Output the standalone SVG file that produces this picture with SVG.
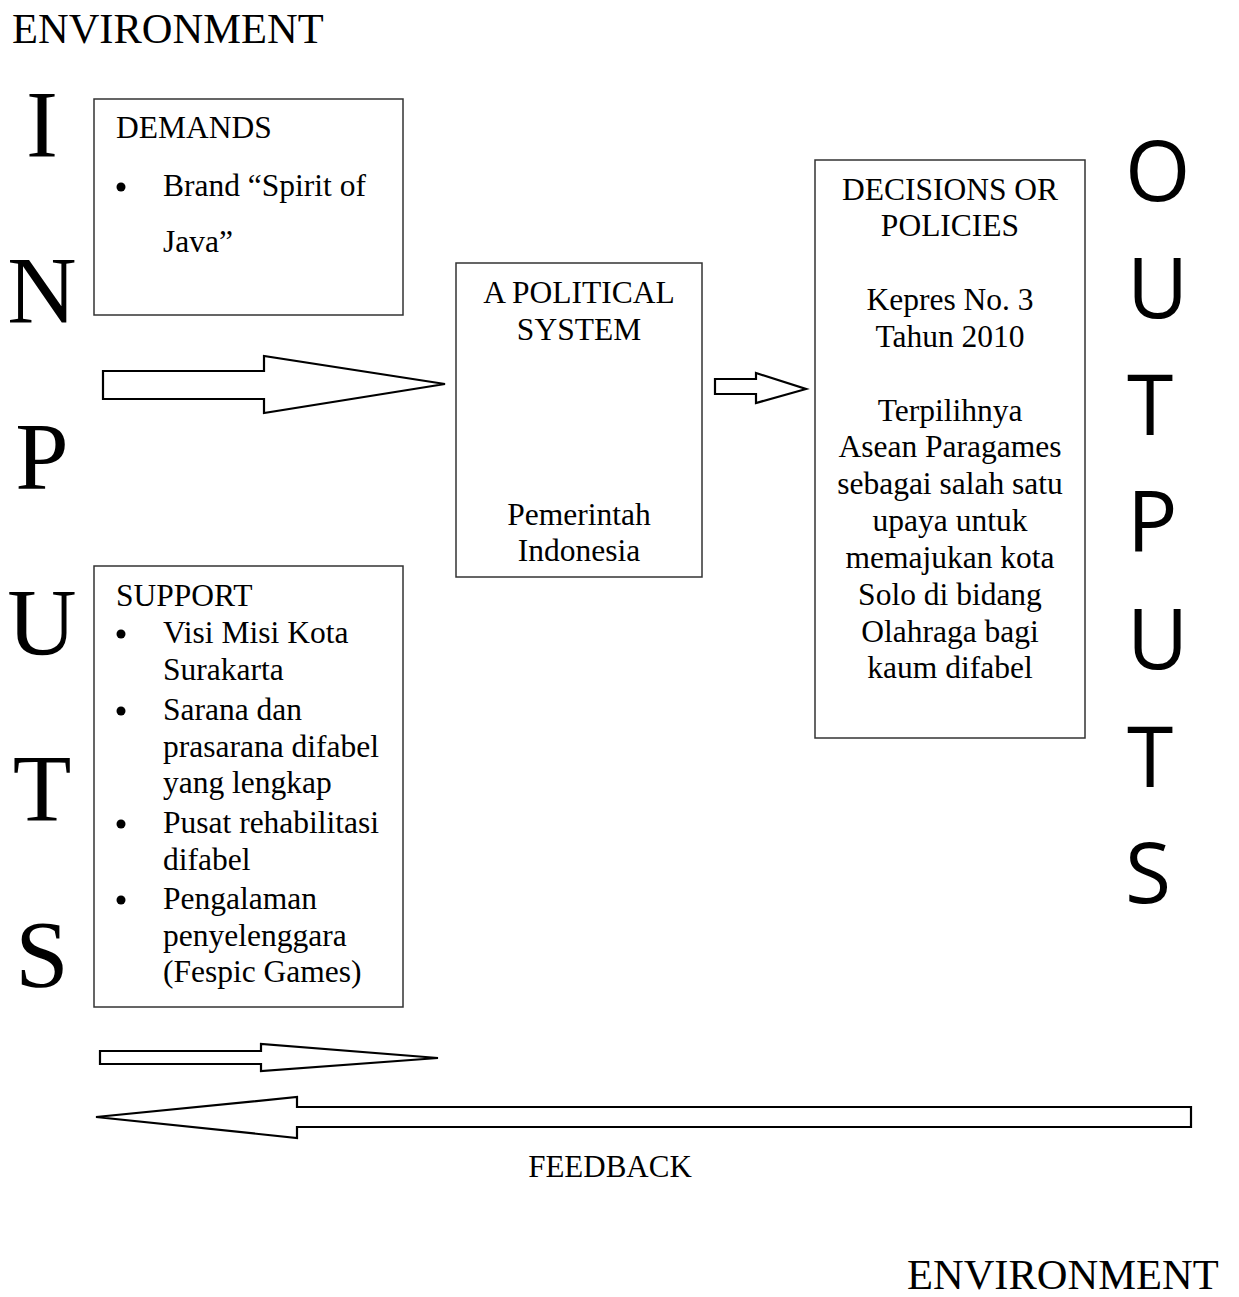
<svg xmlns="http://www.w3.org/2000/svg" width="1239" height="1297" viewBox="0 0 1239 1297">
<style>
.t{font-family:"Liberation Serif","Times New Roman",serif;fill:#000}
.s{font-size:31.5px}
.c{text-anchor:middle}
.big{font-family:"Liberation Serif","Times New Roman",serif;font-size:96px;text-anchor:middle}
.out{font-family:"Open Sans","Liberation Sans",Arial,sans-serif;font-size:84px}
.box{fill:#fff;stroke:#333;stroke-width:1.5}
.arr{fill:#fff;stroke:#000;stroke-width:2.2;stroke-linejoin:miter}
</style>
<rect width="1239" height="1297" fill="#fff"/>
<g id="env-top"><text class="t" x="12" y="43" font-size="42.5">ENVIRONMENT</text></g>
<g id="env-bottom"><text class="t" x="907" y="1289" font-size="42.5">ENVIRONMENT</text></g>
<g id="inputs">
<text class="big" x="42" y="157">I</text>
<text class="big" x="42" y="323">N</text>
<text class="big" x="42" y="489">P</text>
<text class="big" x="42" y="655">U</text>
<text class="big" x="42" y="821">T</text>
<text class="big" x="42" y="987">S</text>
</g>
<g id="outputs">
<text class="out" x="1125" y="201">O</text>
<text class="out" x="1127" y="318">U</text>
<text class="out" x="1127" y="435">T</text>
<text class="out" x="1127" y="552">P</text>
<text class="out" x="1127" y="669">U</text>
<text class="out" x="1127" y="787">T</text>
<text class="out" x="1125" y="903">S</text>
</g>
<g id="demands">
<rect class="box" x="94" y="99" width="309" height="216"/>
<text class="t s" x="116" y="138">DEMANDS</text>
<circle cx="121" cy="187" r="4.5"/>
<text class="t s" x="163" y="196">Brand “Spirit of</text>
<text class="t s" x="163" y="252">Java”</text>
</g>
<g id="support">
<rect class="box" x="94" y="566" width="309" height="441"/>
<text class="t s" x="116" y="606">SUPPORT</text>
<circle cx="121" cy="634" r="4.5"/>
<text class="t s" x="163" y="643">Visi Misi Kota</text>
<text class="t s" x="163" y="679.5">Surakarta</text>
<circle cx="121" cy="711" r="4.5"/>
<text class="t s" x="163" y="720">Sarana dan</text>
<text class="t s" x="163" y="756.5">prasarana difabel</text>
<text class="t s" x="163" y="793">yang lengkap</text>
<circle cx="121" cy="824" r="4.5"/>
<text class="t s" x="163" y="833">Pusat rehabilitasi</text>
<text class="t s" x="163" y="869.5">difabel</text>
<circle cx="121" cy="900" r="4.5"/>
<text class="t s" x="163" y="909">Pengalaman</text>
<text class="t s" x="163" y="945.5">penyelenggara</text>
<text class="t s" x="163" y="982">(Fespic Games)</text>
</g>
<g id="political-system">
<rect class="box" x="456" y="263" width="246" height="314"/>
<text class="t s c" x="579" y="303">A POLITICAL</text>
<text class="t s c" x="579" y="340">SYSTEM</text>
<text class="t s c" x="579" y="525">Pemerintah</text>
<text class="t s c" x="579" y="561">Indonesia</text>
</g>
<g id="decisions">
<rect class="box" x="815" y="160" width="270" height="578"/>
<text class="t s c" x="950" y="200">DECISIONS OR</text>
<text class="t s c" x="950" y="236">POLICIES</text>
<text class="t s c" x="950" y="310">Kepres No. 3</text>
<text class="t s c" x="950" y="347">Tahun 2010</text>
<text class="t s c" x="950" y="421">Terpilihnya</text>
<text class="t s c" x="950" y="457">Asean Paragames</text>
<text class="t s c" x="950" y="494">sebagai salah satu</text>
<text class="t s c" x="950" y="531">upaya untuk</text>
<text class="t s c" x="950" y="568">memajukan kota</text>
<text class="t s c" x="950" y="605">Solo di bidang</text>
<text class="t s c" x="950" y="642">Olahraga bagi</text>
<text class="t s c" x="950" y="678">kaum difabel</text>
</g>
<g id="feedback-label"><text class="t c" x="610" y="1177" font-size="31">FEEDBACK</text></g>
<g id="connectors">
<polygon class="arr" points="103,371 264,371 264,356 445,384 264,413 264,399 103,399"/>
<polygon class="arr" points="715,379 756,379 756,373 806,389 756,403 756,394 715,394"/>
<polygon class="arr" points="100,1051 261,1051 261,1044 438,1058 261,1071 261,1064 100,1064"/>
<polygon class="arr" points="1191,1107 297,1107 297,1097 96,1117 297,1138 297,1127 1191,1127"/>
</g>
</svg>
